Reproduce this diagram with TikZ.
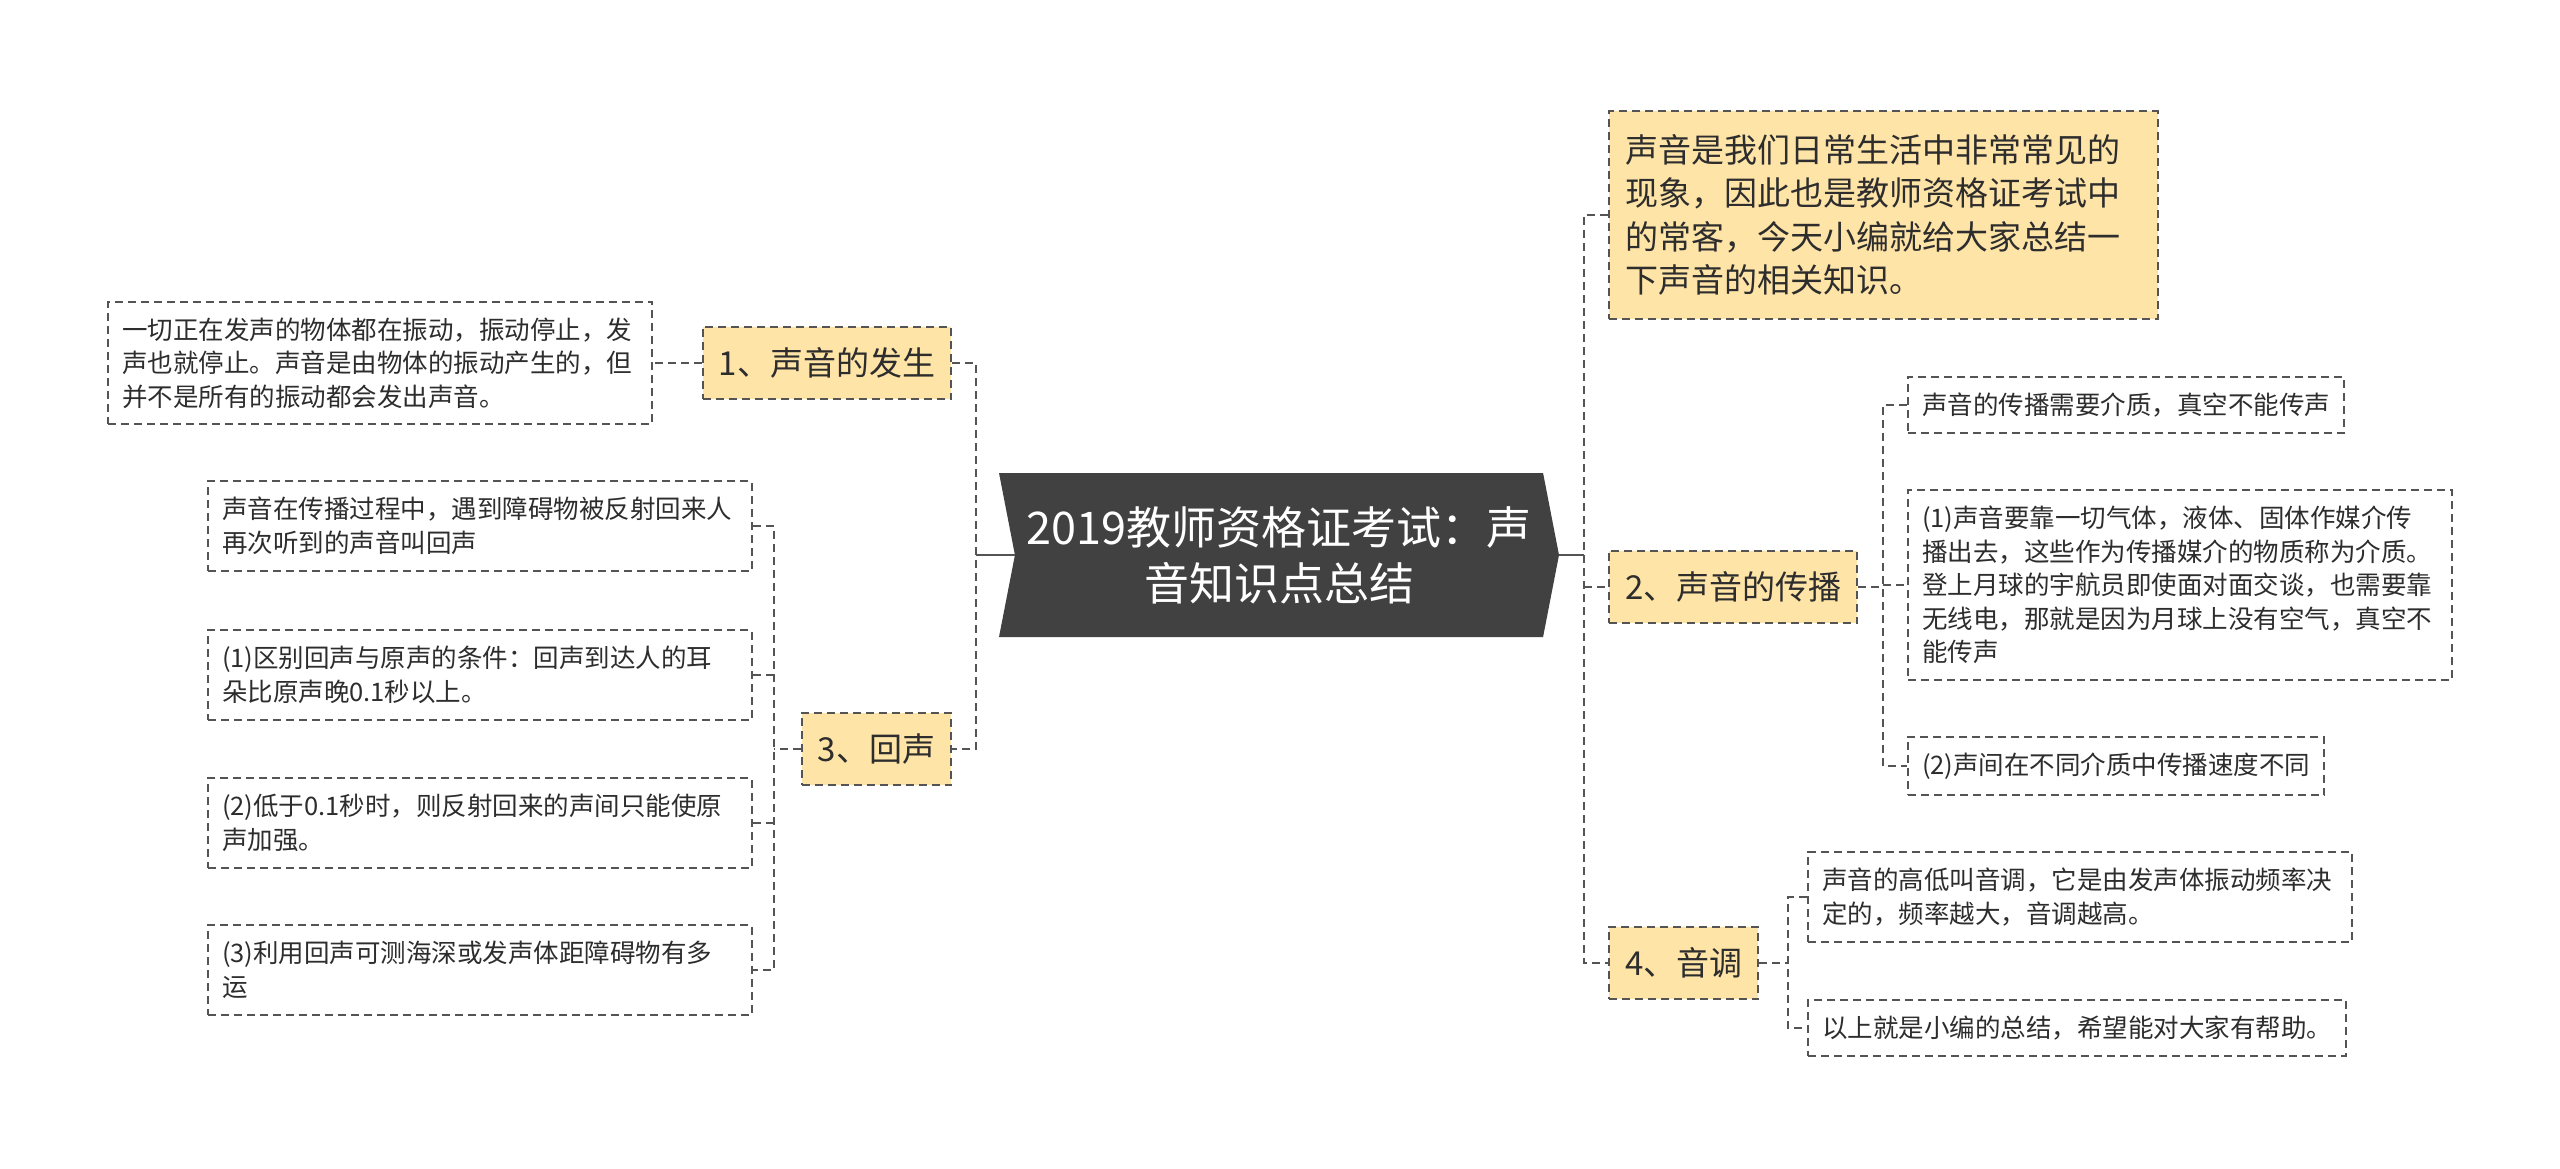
\documentclass[tikz,border=0pt]{standalone}
\usepackage{fontspec}
\setmainfont{Noto Sans CJK SC}
\usetikzlibrary{shapes.symbols}
\definecolor{maplinegray}{RGB}{84,84,84}
\definecolor{maprootgray}{RGB}{65,65,65}
\definecolor{maptopicfill}{RGB}{255,228,168}
\definecolor{maptextgray}{RGB}{45,45,45}
\begin{document}
\begin{tikzpicture}[x=1pt, y=-1pt]
% Mind map exported on a pixel grid (1px = 1pt)
\providecommand{\mapLineWidth}{2pt}
\tikzset{
  mapdash/.style={dash pattern=on 8pt off 5pt},
  root/.style={signal, signal from=west, signal to=east, signal pointer angle=158,
    fill=maprootgray, text=white, minimum width=560pt, minimum height=164pt,
    inner sep=0pt, align=center, font=\fontsize{45}{56}\selectfont},
  topic/.style={draw=maplinegray, line width=\mapLineWidth, mapdash,
    fill=maptopicfill, text=maptextgray, inner xsep=16pt, inner ysep=21pt,
    align=left, font=\fontsize{33}{43.5}\selectfont},
  leaf/.style={draw=maplinegray, line width=\mapLineWidth, mapdash,
    fill=white, text=maptextgray, inner xsep=14pt, inner ysep=16pt,
    align=left, font=\fontsize{25.5}{33.5}\selectfont},
  link/.style={draw=maplinegray, line width=\mapLineWidth, mapdash},
  trunk/.style={draw=maplinegray, line width=\mapLineWidth}
}
\useasboundingbox (0,0) rectangle (2560,1169);
% Root
\node[root] (title) at (1279,555) {2019教师资格证考试：声\\音知识点总结};
% Left topics
\node[topic, anchor=east] (birth) at (952,363) {1、声音的发生};
\node[topic, anchor=east] (echo) at (952,749) {3、回声};
% Right topics
\node[topic, anchor=west, text width=517pt, inner ysep=23pt] (intro) at (1608,215)
  {声音是我们日常生活中非常常见的\\现象，因此也是教师资格证考试中\\的常客，今天小编就给大家总结一\\下声音的相关知识。};
\node[topic, anchor=west] (spread) at (1608,587) {2、声音的传播};
\node[topic, anchor=west] (pitch) at (1608,963) {4、音调};
% Leaves of 1
\node[leaf, anchor=east, text width=516pt] (vibrate) at (653,363)
  {一切正在发声的物体都在振动，振动停止，发\\声也就停止。声音是由物体的振动产生的，但\\并不是所有的振动都会发出声音。};
% Leaves of 3
\node[leaf, anchor=east, text width=516pt] (echodef) at (753,526)
  {声音在传播过程中，遇到障碍物被反射回来人\\再次听到的声音叫回声};
\node[leaf, anchor=east, text width=516pt] (echolate) at (753,675)
  {(1)区别回声与原声的条件：回声到达人的耳\\朵比原声晚0.1秒以上。};
\node[leaf, anchor=east, text width=516pt] (echoloud) at (753,823)
  {(2)低于0.1秒时，则反射回来的声间只能使原\\声加强。};
\node[leaf, anchor=east, text width=516pt] (echofar) at (753,970)
  {(3)利用回声可测海深或发声体距障碍物有多\\运};
% Leaves of 2
\node[leaf, anchor=west] (medium) at (1907,405) {声音的传播需要介质，真空不能传声};
\node[leaf, anchor=west, text width=516pt] (moon) at (1907,585)
  {(1)声音要靠一切气体，液体、固体作媒介传\\播出去，这些作为传播媒介的物质称为介质。\\登上月球的宇航员即使面对面交谈，也需要靠\\无线电，那就是因为月球上没有空气，真空不\\能传声};
\node[leaf, anchor=west] (speed) at (1907,766) {(2)声间在不同介质中传播速度不同};
% Leaves of 4
\node[leaf, anchor=west, text width=516pt] (height) at (1807,897)
  {声音的高低叫音调，它是由发声体振动频率决\\定的，频率越大，音调越高。};
\node[leaf, anchor=west] (thanks) at (1807,1028) {以上就是小编的总结，希望能对大家有帮助。};
% Trunk points
\coordinate (lefttrunk) at (976,555);
\coordinate (righttrunk) at (1584,555);
\coordinate (echotrunk) at (774,749);
\coordinate (spreadtrunk) at (1883,587);
\coordinate (pitchtrunk) at (1788,963);
% Root to trunks
\draw[trunk] (title.west) -- (lefttrunk);
\draw[trunk] (title.east) -- (righttrunk);
\draw[link] (birth.east) -- (lefttrunk |- birth.east) -- (lefttrunk |- echo.east) -- (echo.east);
\draw[link] (intro.west) -- (righttrunk |- intro.west) -- (righttrunk |- pitch.west) -- (pitch.west);
\draw[link] (righttrunk |- spread.west) -- (spread.west);
% Topic 1
\draw[link] (birth.west) -- (vibrate.east);
% Topic 3
\draw[link] (echo.west) -- (echotrunk);
\draw[link] (echodef.east) -- (echotrunk |- echodef.east) -- (echotrunk |- echofar.east) -- (echofar.east);
\draw[link] (echolate.east) -- (echotrunk |- echolate.east);
\draw[link] (echoloud.east) -- (echotrunk |- echoloud.east);
% Topic 2
\draw[link] (spread.east) -- (spreadtrunk);
\draw[link] (medium.west) -- (spreadtrunk |- medium.west) -- (spreadtrunk |- speed.west) -- (speed.west);
\draw[link] (spreadtrunk |- moon.west) -- (moon.west);
% Topic 4
\draw[link] (pitch.east) -- (pitchtrunk);
\draw[link] (height.west) -- (pitchtrunk |- height.west) -- (pitchtrunk |- thanks.west) -- (thanks.west);
\end{tikzpicture}
\end{document}
